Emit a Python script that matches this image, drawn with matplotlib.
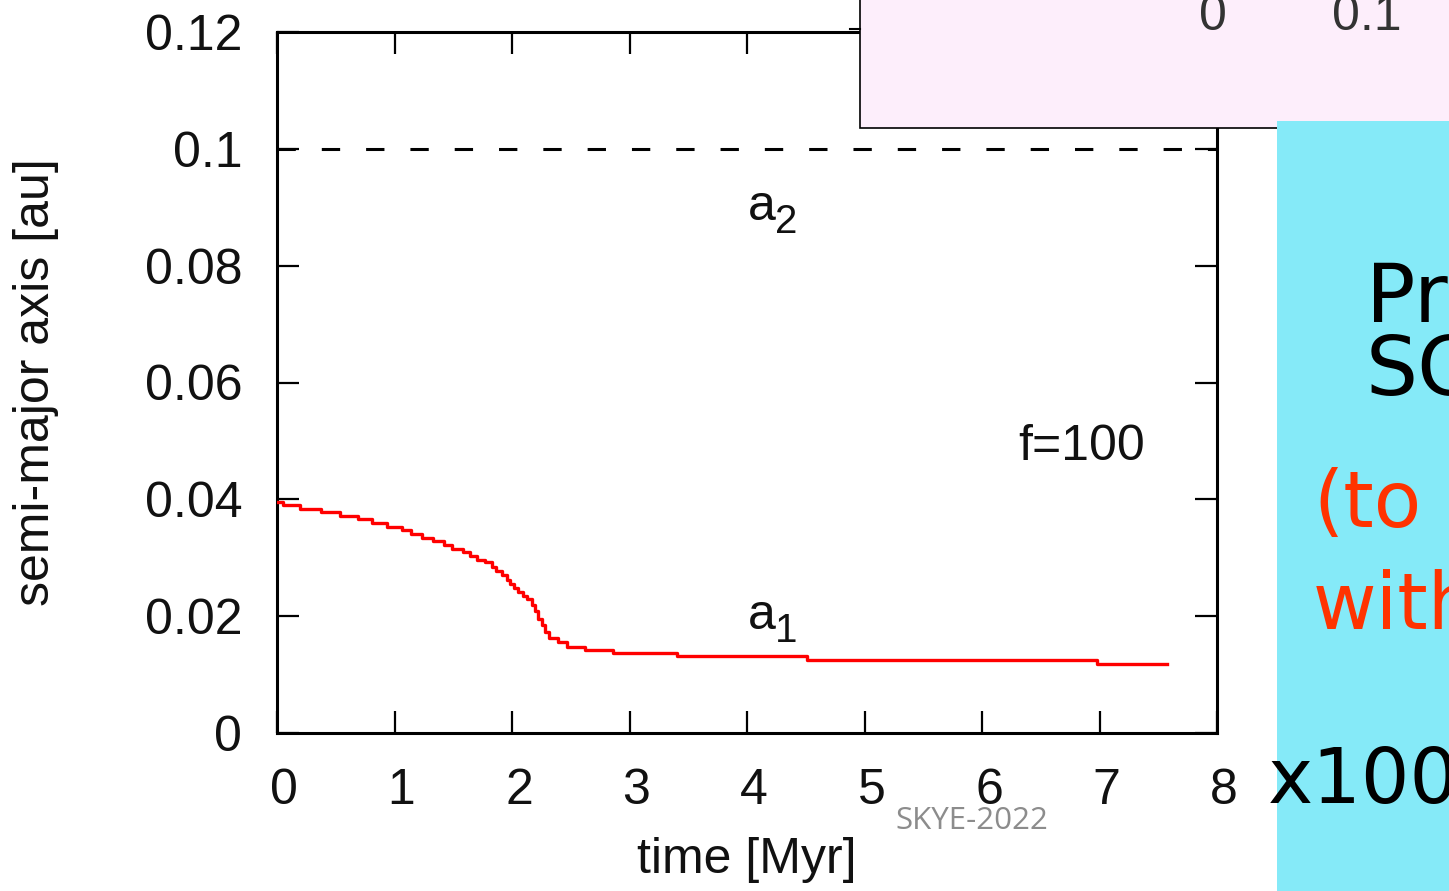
import matplotlib
matplotlib.use("Agg")
import matplotlib.pyplot as plt
import matplotlib.transforms as mtransforms
from matplotlib.patches import Rectangle
from matplotlib.lines import Line2D

# inner planet semi-major axis vs time (step output of the integrator)
time_myr = [0.0, 0.051, 0.196, 0.374, 0.536, 0.689, 0.809, 0.936, 1.064, 1.140,
            1.234, 1.328, 1.421, 1.489, 1.583, 1.643, 1.702, 1.770, 1.830, 1.864,
            1.915, 1.957, 1.983, 2.017, 2.051, 2.094, 2.128, 2.170, 2.196, 2.221,
            2.255, 2.281, 2.315, 2.391, 2.468, 2.621, 2.860, 3.404, 4.511, 6.979,
            7.574]
a1_au = [0.0396, 0.0391, 0.0384, 0.0378, 0.0372, 0.0366, 0.0360, 0.0353, 0.0347, 0.0341,
         0.0334, 0.0328, 0.0322, 0.0315, 0.0309, 0.0303, 0.0297, 0.0292, 0.0285, 0.0278,
         0.0270, 0.0262, 0.0255, 0.0248, 0.0242, 0.0235, 0.0229, 0.0219, 0.0208, 0.0196,
         0.0185, 0.0173, 0.0163, 0.0155, 0.0148, 0.0142, 0.0137, 0.0131, 0.0125, 0.0118,
         0.0118]
a2_au = 0.1
f_factor = 100

xticks = [0, 1, 2, 3, 4, 5, 6, 7, 8]
yticks = [0, 0.02, 0.04, 0.06, 0.08, 0.1, 0.12]
ytick_labels = ["0", "0.02", "0.04", "0.06", "0.08", "0.1", "0.12"]

plt.rcParams['font.family'] = ['Liberation Sans', 'DejaVu Sans']

fig = plt.figure(figsize=(14.49, 8.91), dpi=100)
ax = fig.add_axes([277/1449, 1 - 733/891, 940/1449, 701/891])

ax.step(time_myr, a1_au, where='post', color='red', lw=2.4, zorder=3)
ax.axhline(a2_au, color='black', lw=2.2, dashes=(6, 8.5), zorder=2)

ax.set_xlim(0, 8)
ax.set_ylim(0, 0.12)
ax.set_xticks(xticks)
ax.set_yticks(yticks)
ax.set_yticklabels(ytick_labels)

fs = 36
ax.tick_params(direction='in', length=16, width=1.6, top=True, right=True,
               labelsize=fs, pad=25, colors='black', labelcolor='#111111')
ax.tick_params(axis='x', pad=25)
for sp in ax.spines.values():
    sp.set_linewidth(2.2)

# shift x tick labels a little to the right
offset = mtransforms.ScaledTranslation(7/100, 0, fig.dpi_scale_trans)
for lbl in ax.get_xticklabels():
    lbl.set_transform(lbl.get_transform() + offset)

ax.set_xlabel('time [Myr]', fontsize=fs, color='#111111')
ax.set_ylabel('semi-major axis [au]', fontsize=fs, color='#111111')
ax.xaxis.set_label_coords(0.5, -0.148)
ax.yaxis.set_label_coords(-0.232, 0.5)

# curve labels: letter plus a lowered subscript
for name, sub, ya in [('a', '2', 0.0878), ('a', '1', 0.0178)]:
    ax.text(4.01, ya, name, fontsize=fs, va='baseline', color='#111111')
    ax.annotate(sub, xy=(4.01, ya), xytext=(27, -13), textcoords='offset pixels',
                fontsize=29, va='baseline', color='#111111')
ax.text(6.31, 0.0467, 'f=%d' % f_factor, fontsize=fs, va='baseline', color='#111111')

# slide panels overlapping the plot
fig.add_artist(Rectangle((860/1449, 1 - 128/891), 0.5, 0.2, transform=fig.transFigure,
                         facecolor='#fdeefb', edgecolor='black', lw=1.2, zorder=5))
fig.add_artist(Line2D([850/1449, 860/1449], [1 - 29/891, 1 - 29/891],
                      transform=fig.transFigure, color='black', lw=1.5, zorder=6))
fig.text(1213/1449, 1 - 17/891, '0', fontsize=fs, color='#333333',
         ha='center', va='center', zorder=6)
fig.text(1367/1449, 1 - 17/891, '0.1', fontsize=fs, color='#333333',
         ha='center', va='center', zorder=6)

fig.add_artist(Rectangle((1277/1449, -0.01), 0.2, 0.01 + 1 - 121/891, transform=fig.transFigure,
                         facecolor='#85eaf8', edgecolor='none', zorder=7))
fig.text(1366/1449, 1 - 322/891, 'Pri', fontsize=59, family='DejaVu Sans',
         color='black', va='baseline', zorder=8)
fig.text(1366/1449, 1 - 395/891, 'SC', fontsize=59, family='DejaVu Sans',
         color='black', va='baseline', zorder=8)
fig.text(1313/1449, 1 - 527/891, '(to', fontsize=56, family='DejaVu Sans',
         color='#ff3300', va='baseline', zorder=8)
fig.text(1313/1449, 1 - 629/891, 'with', fontsize=56, family='DejaVu Sans',
         color='#ff3300', va='baseline', zorder=8)
fig.text(1268/1449, 1 - 803/891, 'x100', fontsize=55, family='DejaVu Sans',
         color='black', va='baseline', zorder=8)

fig.text(895/1449, 1 - 829/891, 'SKYE-2022', fontsize=22.5, family='Open Sans',
         color='#8c8c8c', va='baseline', zorder=8)

fig.savefig('out.png', dpi=100)
